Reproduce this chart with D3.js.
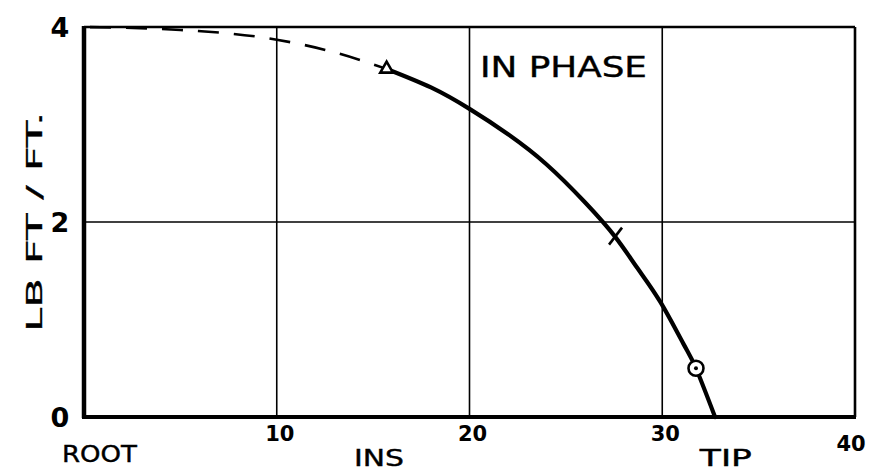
<!DOCTYPE html>
<html><head><meta charset="utf-8">
<script src="https://cdn.jsdelivr.net/npm/d3@7"></script>
<style>
html,body{margin:0;padding:0;background:#fff;}
svg{display:block;}
text{font-family:"DejaVu Sans",sans-serif;fill:#000;}
</style></head>
<body>
<svg id="chart" width="880" height="474"></svg>
<script>
// ---- data ----
const xTicks = [10, 20, 30, 40];
const xTickLabels = ["10", "20", "30", "40"];
const yTicks = [0, 2, 4];
const yTickLabels = ["0", "2", "4"];
const dashedX = [0, 5, 10, 13, 15.7];
const dashedY = [4.0, 3.97, 3.87, 3.74, 3.57];
const solidX = [15.7, 18, 20, 22, 24, 26, 27.55, 28.7, 29.9, 31.1, 31.75, 32.74];
const solidY = [3.57, 3.38, 3.16, 2.9, 2.59, 2.2, 1.85, 1.53, 1.18, 0.75, 0.5, 0];
const markerKinds = ["triangle", "cross", "circle"];
const markerX = [15.7, 27.55, 31.75];
const markerY = [3.57, 1.85, 0.5];
const stationLabels = ["ROOT", "INS", "TIP"];
const stationX = [0.8, 15.3, 33.3];
const title = "IN PHASE";
const yTitle = "LB FT / FT.";

// ---- layout ----
const svg = d3.select("#chart");
const x = d3.scaleLinear().domain([0, 40]).range([84, 855]);
const y = d3.scaleLinear().domain([0, 4]).range([417, 27]);

// grid
const g = svg.append("g");
g.selectAll("line.vg").data(xTicks.slice(0, 3)).join("line")
  .attr("x1", d => x(d)).attr("x2", d => x(d))
  .attr("y1", y(4)).attr("y2", y(0))
  .attr("stroke", "#000").attr("stroke-width", 1.6);
g.selectAll("line.hg").data([2]).join("line")
  .attr("x1", x(0)).attr("x2", x(40))
  .attr("y1", d => y(d)).attr("y2", d => y(d))
  .attr("stroke", "#000").attr("stroke-width", 1.6);

// frame
g.append("line").attr("x1", x(0)).attr("x2", x(40)).attr("y1", y(4)).attr("y2", y(4))
  .attr("stroke", "#000").attr("stroke-width", 2.6);
g.append("line").attr("x1", x(40)).attr("x2", x(40)).attr("y1", y(4)).attr("y2", y(0))
  .attr("stroke", "#000").attr("stroke-width", 2.6);
g.append("line").attr("x1", x(0)).attr("x2", x(0)).attr("y1", y(4) - 1).attr("y2", y(0) + 1)
  .attr("stroke", "#000").attr("stroke-width", 4.5);
g.append("line").attr("x1", x(0) - 2).attr("x2", x(40) + 1).attr("y1", y(0)).attr("y2", y(0))
  .attr("stroke", "#000").attr("stroke-width", 3.8);

// curves
const dashLine = d3.line().x(d => x(d[0])).y(d => y(d[1])).curve(d3.curveMonotoneX);
const solidLine = d3.line().x(d => x(d[0])).y(d => y(d[1])).curve(d3.curveNatural);
svg.append("path").datum(dashedX.map((v, i) => [v, dashedY[i]]))
  .attr("d", dashLine).attr("fill", "none").attr("stroke", "#000")
  .attr("stroke-width", 2.6).attr("stroke-dasharray", "21,15").attr("stroke-dashoffset", -6);
svg.append("path").datum(solidX.map((v, i) => [v, solidY[i]]))
  .attr("d", solidLine).attr("fill", "none").attr("stroke", "#000")
  .attr("stroke-width", 4.2).attr("stroke-linecap", "round");

// markers
markerKinds.forEach((k, i) => {
  const cx = x(markerX[i]), cy = y(markerY[i]);
  const m = svg.append("g").attr("transform", `translate(${cx},${cy})`);
  if (k === "triangle") {
    m.append("path").attr("d", d3.symbol().type(d3.symbolTriangle).size(70)())
      .attr("fill", "#fff").attr("stroke", "#000").attr("stroke-width", 2.6);
  } else if (k === "cross") {
    m.append("line").attr("x1", -6).attr("y1", 8).attr("x2", 7).attr("y2", -9)
      .attr("stroke", "#000").attr("stroke-width", 2.6);
  } else {
    m.append("circle").attr("r", 7.5).attr("fill", "#fff")
      .attr("stroke", "#000").attr("stroke-width", 2.6);
    m.append("circle").attr("r", 2).attr("fill", "#000");
  }
});

// tick labels
svg.selectAll("text.yt").data(yTicks).join("text")
  .attr("x", 60).attr("y", d => y(d)).attr("dy", "0.36em")
  .attr("text-anchor", "middle").attr("font-size", 27).attr("font-weight", "bold")
  .text((d, i) => yTickLabels[i]);
svg.selectAll("text.xt").data(xTicks).join("text")
  .attr("x", d => x(d) + (d === 40 ? -4 : 3)).attr("y", d => d === 40 ? 451 : 441)
  .attr("text-anchor", "middle").attr("font-size", 21).attr("font-weight", "bold")
  .text((d, i) => xTickLabels[i]);

// station labels
const stationLen = [75, 50, 52];
svg.selectAll("text.st").data(stationLabels).join("text")
  .attr("x", (d, i) => x(stationX[i])).attr("y", (d, i) => i === 0 ? 462 : 466)
  .attr("text-anchor", "middle").attr("font-size", 23)
  .attr("stroke", "#000").attr("stroke-width", 0.4)
  .attr("textLength", (d, i) => stationLen[i]).attr("lengthAdjust", "spacingAndGlyphs")
  .text(d => d);

// title
svg.append("text").attr("x", 480).attr("y", 77)
  .attr("font-size", 29).attr("stroke", "#000").attr("stroke-width", 0.4)
  .attr("textLength", 167).attr("lengthAdjust", "spacingAndGlyphs")
  .text(title);

// y title
svg.append("text").attr("transform", "translate(42,222) rotate(-90)")
  .attr("text-anchor", "middle").attr("font-size", 22)
  .attr("stroke", "#000").attr("stroke-width", 0.3)
  .attr("textLength", 220).attr("lengthAdjust", "spacingAndGlyphs")
  .text(yTitle);
</script>
</body></html>
